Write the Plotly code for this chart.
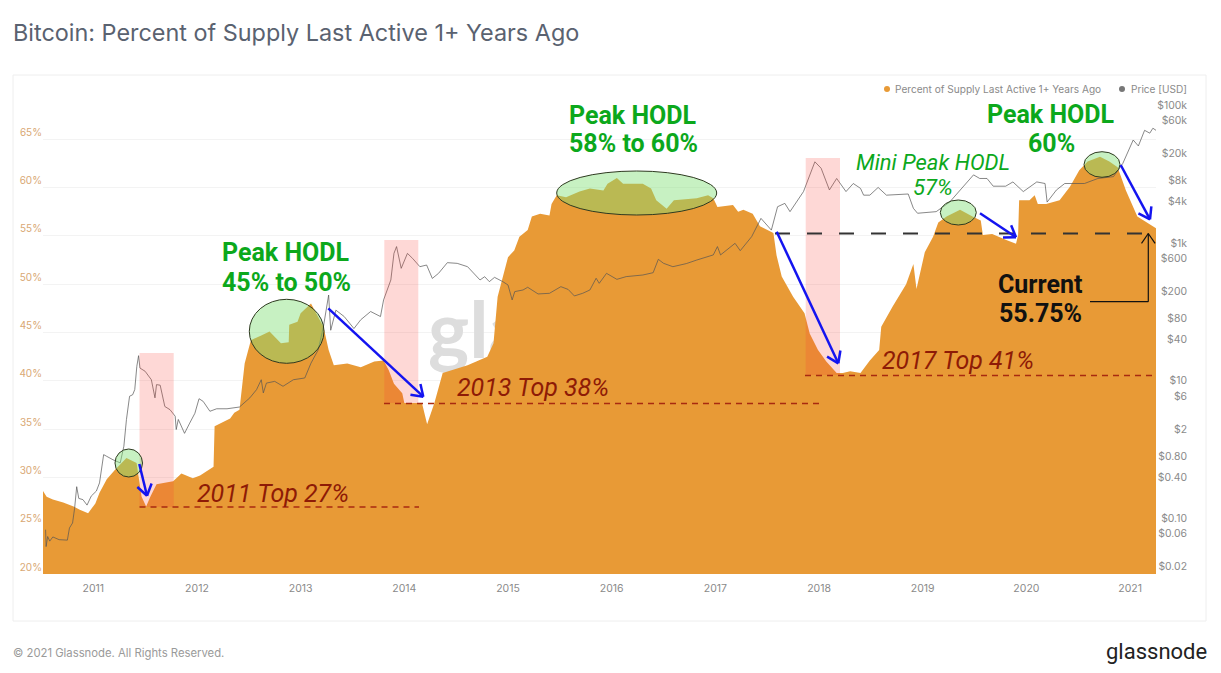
import math
import plotly.graph_objects as go

# === DATA ===
supply_year = [2010.515, 2010.55, 2010.61, 2010.71, 2010.81, 2010.87, 2010.95,
               2011.02, 2011.06, 2011.13, 2011.21, 2011.27, 2011.32, 2011.418, 2011.466, 2011.51, 2011.55, 2011.61, 2011.77, 2011.85, 2011.96,
               2012.03, 2012.16, 2012.17, 2012.32, 2012.36, 2012.41, 2012.46, 2012.52, 2012.62, 2012.70, 2012.81, 2012.885, 2012.89, 2012.97,
               2013.0, 2013.10, 2013.145, 2013.22, 2013.27, 2013.32, 2013.45, 2013.58, 2013.71, 2013.80, 2013.85, 2013.90, 2013.98,
               2014.0, 2014.17, 2014.22, 2014.29, 2014.37, 2014.61, 2014.80, 2014.86, 2014.90, 2015.0,
               2015.06, 2015.11, 2015.19, 2015.23, 2015.31, 2015.40, 2015.42, 2015.47, 2015.56, 2015.69, 2015.79, 2015.92, 2015.96,
               2016.05, 2016.11, 2016.30, 2016.38, 2016.43, 2016.53, 2016.60, 2016.82, 2016.93, 2016.98,
               2017.02, 2017.17, 2017.22, 2017.27, 2017.36, 2017.43, 2017.56, 2017.59, 2017.64, 2017.75, 2017.86, 2017.91, 2017.99,
               2018.07, 2018.17, 2018.23, 2018.30, 2018.40, 2018.49, 2018.58, 2018.60, 2018.71, 2018.84, 2018.91, 2018.94,
               2019.02, 2019.10, 2019.15, 2019.23, 2019.36, 2019.48, 2019.56, 2019.58, 2019.67, 2019.80, 2019.90, 2019.92, 2019.93,
               2020.03, 2020.08, 2020.11, 2020.19, 2020.32, 2020.42, 2020.51, 2020.59, 2020.71, 2020.80, 2020.88, 2020.96,
               2021.07, 2021.17, 2021.25]
supply_pct = [28.6, 28.0, 27.7, 27.4, 27.0, 26.65, 26.3,
              27.3, 28.4, 29.8, 30.8, 31.5, 32.0, 31.5, 28.0, 27.0, 28.0, 29.3, 29.6, 30.4, 29.9,
              30.2, 31.1, 35.3, 36.1, 36.7, 37.0, 41.8, 44.2, 44.7, 45.1, 43.9, 44.0, 45.8, 46.1,
              47.0, 48.0, 47.1, 45.6, 43.2, 41.6, 41.8, 41.4, 42.0, 42.1, 41.1, 39.7, 38.7,
              37.7, 37.7, 35.5, 37.7, 40.8, 41.6, 42.5, 43.9, 48.7, 52.8,
              53.5, 54.9, 55.6, 57.0, 57.3, 57.1, 58.3, 59.2, 59.0, 59.6, 59.9, 59.7, 60.4,
              61.0, 60.4, 60.4, 59.9, 58.7, 57.8, 58.7, 58.9, 59.2, 58.9,
              58.0, 58.2, 57.5, 57.7, 57.3, 56.0, 55.3, 53.0, 50.8, 48.7, 47.0, 44.9, 43.2,
              42.0, 40.8, 40.8, 41.0, 40.8, 42.1, 43.2, 45.6, 47.7, 50.0, 52.1, 49.5,
              53.3, 54.9, 56.4, 57.0, 57.7, 57.0, 56.6, 55.1, 55.2, 54.6, 54.2, 55.1, 58.7,
              58.7, 59.2, 58.3, 58.3, 58.7, 60.1, 61.8, 62.7, 63.2, 62.7, 62.1, 59.7,
              57.0, 56.3, 55.8]

price_year = [2010.54, 2010.545, 2010.56, 2010.58, 2010.61, 2010.67, 2010.75, 2010.77, 2010.80, 2010.82, 2010.84, 2010.86, 2010.90, 2010.94, 2010.98,
              2011.03, 2011.06, 2011.10, 2011.13, 2011.19, 2011.26, 2011.295, 2011.32, 2011.35, 2011.38, 2011.40, 2011.42, 2011.437, 2011.45, 2011.50, 2011.56, 2011.595, 2011.61, 2011.645, 2011.69, 2011.74, 2011.79, 2011.80, 2011.82, 2011.88, 2011.93, 2011.98,
              2012.02, 2012.06, 2012.125, 2012.19, 2012.29, 2012.41, 2012.51, 2012.575, 2012.62, 2012.64, 2012.67, 2012.75, 2012.83, 2012.93,
              2013.04, 2013.10, 2013.17, 2013.22, 2013.27, 2013.29, 2013.34, 2013.42, 2013.514, 2013.58, 2013.675, 2013.77, 2013.80, 2013.87, 2013.90, 2013.925, 2013.97,
              2014.03, 2014.08, 2014.15, 2014.215, 2014.27, 2014.33, 2014.415, 2014.51, 2014.61, 2014.73, 2014.775, 2014.82, 2014.87, 2014.95,
              2015.0, 2015.04, 2015.065, 2015.145, 2015.19, 2015.29, 2015.40, 2015.51, 2015.58, 2015.64, 2015.72, 2015.79, 2015.85, 2015.88, 2015.95,
              2016.05, 2016.14, 2016.30, 2016.40, 2016.45, 2016.50, 2016.59, 2016.66, 2016.72, 2016.82, 2016.90, 2016.98,
              2017.02, 2017.05, 2017.19, 2017.24, 2017.35, 2017.41, 2017.44, 2017.54, 2017.60, 2017.67, 2017.72, 2017.85, 2017.96,
              2018.02, 2018.10, 2018.17, 2018.26, 2018.33, 2018.40, 2018.43, 2018.49, 2018.57, 2018.65, 2018.86, 2018.91, 2018.95,
              2019.13, 2019.26, 2019.36, 2019.49, 2019.55, 2019.62, 2019.68, 2019.80, 2019.87, 2019.97,
              2020.10, 2020.18, 2020.20, 2020.29, 2020.37, 2020.56, 2020.69, 2020.84, 2020.93, 2020.98,
              2021.03, 2021.08, 2021.14, 2021.19, 2021.22, 2021.25]
price_usd = [0.088, 0.05, 0.07, 0.06, 0.069, 0.063, 0.062, 0.093, 0.11, 0.18, 0.37, 0.25, 0.24, 0.2, 0.27,
             0.32, 0.42, 1.08, 1.02, 0.91, 0.82, 1.43, 3.5, 7.6, 8, 9.5, 20.7, 29.5, 19.5, 17.5, 13.2, 7.2, 11.2, 11, 5.4, 4.85, 3.9, 2.5, 3.5, 2.2, 3.1, 4.3,
             7, 6.4, 4.6, 5, 5, 5.3, 7.2, 9.5, 13.2, 8.5, 11.8, 12.5, 10.6, 13.2,
             14, 23, 36, 78, 224, 69, 135, 109, 73, 98, 129, 109, 190, 370, 900, 1130, 546,
             900, 760, 577, 610, 390, 462, 660, 645, 577, 370, 413, 350, 404, 350,
             313, 190, 251, 265, 290, 232, 237, 296, 270, 217, 237, 265, 392, 331, 462,
             378, 414, 437, 472, 738, 646, 577, 611, 640, 720, 790, 855,
             1130, 855, 1260, 985, 1574, 2460, 2900, 1960, 4280, 4790, 3630, 7100, 19200,
             15500, 7500, 11000, 7100, 9300, 7900, 6300, 6300, 8150, 6300, 6550, 4060, 3440,
             3630, 5000, 7500, 12400, 11000, 11000, 8500, 8500, 9800, 7100,
             9800, 9300, 5000, 7500, 9300, 9300, 11000, 11700, 18200, 27000,
             39800, 32600, 55000, 50000, 59000, 55000]

year_ticks = list(range(2011, 2022))
pct_ticks = [20, 25, 30, 35, 40, 45, 50, 55, 60, 65]
pct_labels = [f"{v}%" for v in pct_ticks]
usd_ticks = [100000, 60000, 20000, 8000, 4000, 1000, 600, 200, 80, 40, 10, 6, 2, 0.8, 0.4, 0.1, 0.06, 0.02]
usd_labels = ["$100k", "$60k", "$20k", "$8k", "$4k", "$1k", "$600", "$200", "$80", "$40", "$10", "$6", "$2",
              "$0.80", "$0.40", "$0.10", "$0.06", "$0.02"]

# === COLORS ===
ORANGE = "#E89A36"
GREEN = "#0CA81C"
DARK_RED = "#8E1B06"
BLUE = "#1414F0"
FONT = "Inter"

# === PAGE GEOMETRY (picture pixels, the page has an 8px body margin) ===
PLOT_L, PLOT_R, PLOT_T, PLOT_B = 43, 1156, 91, 574
PAPER_R = 1187


def xp(px):
    return (px - PLOT_L) / (PAPER_R - PLOT_L)


def yp(py):
    return (PLOT_B - py) / (PLOT_B - PLOT_T)


shapes = []
annotations = []


def rect(x0, y0, x1, y1, **kw):
    shapes.append(dict(type="rect", xref="paper", yref="paper", x0=xp(x0), x1=xp(x1), y0=yp(y1), y1=yp(y0), **kw))


def ellipse(x0, y0, x1, y1):
    shapes.append(dict(type="circle", xref="paper", yref="paper", x0=xp(x0), x1=xp(x1), y0=yp(y1), y1=yp(y0),
                       fillcolor="rgba(130,225,120,0.45)", line=dict(color="#2E3A20", width=1)))


def line(x0, y0, x1, y1, color, width, dash="solid"):
    shapes.append(dict(type="line", xref="paper", yref="paper", x0=xp(x0), x1=xp(x1), y0=yp(y0), y1=yp(y1),
                       line=dict(color=color, width=width, dash=dash)))


def arrow(x0, y0, x1, y1, color=BLUE, width=2.5, head=13):
    line(x0, y0, x1, y1, color, width)
    ang = math.atan2(y1 - y0, x1 - x0)
    for side in (-0.6, 0.6):
        line(x1, y1, x1 - head * math.cos(ang + side), y1 - head * math.sin(ang + side), color, width)


def text(s, px, py, size, color, anchor="center", style="normal", weight=400, family=FONT):
    annotations.append(dict(text=s, xref="paper", yref="paper", x=xp(px), y=yp(py), showarrow=False,
                            xanchor=anchor, yanchor="middle",
                            font=dict(size=size, color=color, style=style, weight=weight, family=family)))


# === OVERLAYS ===
rect(13, 75, 1206, 621, line=dict(color="#EEEEEE", width=1), layer="below")

rect(139.5, 353, 173.7, 507, fillcolor="rgba(250,60,50,0.2)", line=dict(width=0))
rect(384.3, 240, 418.3, 403, fillcolor="rgba(250,60,50,0.2)", line=dict(width=0))
rect(805.7, 158, 840, 375, fillcolor="rgba(250,60,50,0.2)", line=dict(width=0))

ellipse(115, 449, 142.5, 477)
ellipse(249.3, 299.3, 324, 363.3)
ellipse(556.7, 171, 716.7, 215)
ellipse(940.3, 200, 976.3, 225)
ellipse(1084, 151.7, 1120, 177.3)

line(139.5, 507, 419, 507, "#A82A10", 1.5, "6px,5px")
line(384, 403.5, 823, 403.5, "#A82A10", 1.5, "6px,5px")
line(805, 375.5, 1156, 375.5, "#A82A10", 1.5, "6px,5px")
line(775, 233.5, 1156, 233.5, "#333333", 2, "15px,17px")

arrow(139.3, 464, 147, 495.7)
arrow(328.3, 308.3, 423.3, 396.7)
arrow(776.7, 231.7, 838.3, 363.3)
arrow(980, 213.3, 1016, 237.3)
arrow(1120.7, 165, 1150, 219.3)

line(1090, 301.7, 1148.3, 301.7, "#111111", 1.2)
arrow(1148.3, 301.7, 1148.3, 233.5, color="#111111", width=1.2, head=12)

# === TEXTS ===
text("Peak HODL", 286, 253, 25, GREEN, weight=700, family="Roboto")
text("45% to 50%", 286, 282, 25, GREEN, weight=700, family="Roboto")
text("Peak HODL", 633, 115, 25, GREEN, weight=700, family="Roboto")
text("58% to 60%", 633, 144, 25, GREEN, weight=700, family="Roboto")
text("Peak HODL", 1051, 114, 25, GREEN, weight=700, family="Roboto")
text("60%", 1051, 143, 25, GREEN, weight=700, family="Roboto")
text("Mini Peak HODL", 933, 163, 22, GREEN, style="italic", family="Roboto")
text("57%", 933, 187, 22, GREEN, style="italic", family="Roboto")
text("Current", 1040, 284, 25, "#111111", weight=700, family="Roboto")
text("55.75%", 1040, 313, 25, "#111111", weight=700, family="Roboto")
text("2011 Top 27%", 273, 493, 25, DARK_RED, style="italic", family="Roboto")
text("2013 Top 38%", 533, 388, 25, DARK_RED, style="italic", family="Roboto")
text("2017 Top 41%", 958, 360, 25, DARK_RED, style="italic", family="Roboto")

text("Bitcoin: Percent of Supply Last Active 1+ Years Ago", 11, 32, 23.4, "#5A6270", anchor="left")
text("© 2021 Glassnode. All Rights Reserved.", 11, 653, 11.3, "#9A9A9A", anchor="left")
text("glassnode", 1209, 651, 22, "#222222", anchor="right", family="Roboto")

# legend
shapes.append(dict(type="circle", xref="paper", yref="paper", x0=xp(884), x1=xp(890), y0=yp(92), y1=yp(86),
                   fillcolor=ORANGE, line=dict(width=0)))
shapes.append(dict(type="circle", xref="paper", yref="paper", x0=xp(1119), x1=xp(1125), y0=yp(92), y1=yp(86),
                   fillcolor="#777777", line=dict(width=0)))
text("Percent of Supply Last Active 1+ Years Ago", 893, 89, 10.1, "#8A8A8A", anchor="left")
text("Price [USD]", 1129, 89, 10.1, "#8A8A8A", anchor="left")

# === FIGURE ===
fig = go.Figure()

# watermark sits under the area
fig.add_trace(go.Scatter(x=[2015.885], y=[44.4], mode="text", text=["glassnode"], hoverinfo="skip", showlegend=False,
                         textfont=dict(size=78, color="#DDDDDD", family="Lato", weight=700)))
fig.add_trace(go.Scatter(x=supply_year, y=supply_pct, mode="lines", fill="tozeroy", fillcolor=ORANGE,
                         line=dict(width=0, color=ORANGE), name="Percent of Supply Last Active 1+ Years Ago",
                         showlegend=False))
fig.add_trace(go.Scatter(x=price_year, y=price_usd, mode="lines", yaxis="y2", name="Price [USD]", showlegend=False,
                         line=dict(width=0.7, color="#555555")))

fig.update_layout(
    width=1205,
    height=657,
    margin=dict(l=PLOT_L - 8, r=1213 - PAPER_R, t=PLOT_T - 8, b=665 - PLOT_B),
    paper_bgcolor="white",
    plot_bgcolor="white",
    showlegend=False,
    shapes=shapes,
    annotations=annotations,
    xaxis=dict(
        domain=[0, (PLOT_R - PLOT_L) / (PAPER_R - PLOT_L)],
        range=[2010.515, 2021.25],
        tickmode="array",
        tickvals=year_ticks,
        ticktext=[str(y) for y in year_ticks],
        showgrid=False,
        zeroline=False,
        showline=False,
        ticks="",
        ticklabelstandoff=6,
        tickfont=dict(size=10.5, color="#8A8A8A", family=FONT),
    ),
    yaxis=dict(
        range=[20, 70],
        tickmode="array",
        tickvals=pct_ticks,
        ticktext=pct_labels,
        ticklabelposition="outside top",
        showgrid=True,
        gridcolor="#F3F3F3",
        zeroline=False,
        ticks="",
        tickfont=dict(size=10, color="#D9A874", family=FONT),
    ),
    yaxis2=dict(
        type="log",
        overlaying="y",
        anchor="free",
        side="left",
        position=1,
        range=[math.log10(0.02), 5.311],
        tickmode="array",
        tickvals=usd_ticks,
        ticktext=usd_labels,
        ticklabelposition="outside top",
        showgrid=False,
        zeroline=False,
        ticks="",
        tickfont=dict(size=10.4, color="#8A8A8A", family=FONT),
    ),
)

fig.write_html("out.html")
